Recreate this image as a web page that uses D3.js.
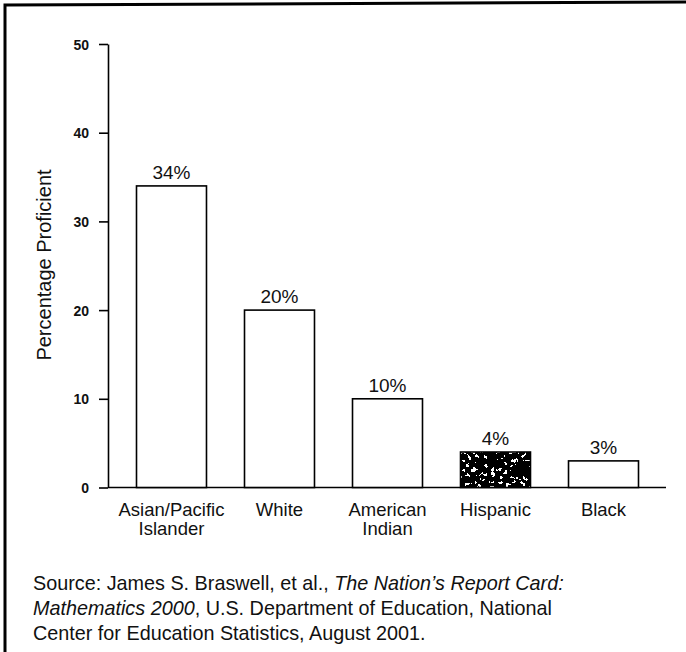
<!DOCTYPE html>
<html>
<head>
<meta charset="utf-8">
<script src="https://cdn.jsdelivr.net/npm/d3@7"></script>
<style>
  html, body { margin: 0; padding: 0; background: #fff; }
  svg { display: block; }
  text { font-family: "Liberation Sans", Arial, Helvetica, sans-serif; fill: #111; }
</style>
</head>
<body>
<svg id="chart" width="686" height="652"></svg>
<script>
// Grade 12 mathematics proficiency by race/ethnicity, NAEP 2000
const categories = ["Asian/Pacific Islander", "White", "American Indian", "Hispanic", "Black"];
const categoryLines = [["Asian/Pacific", "Islander"], ["White"], ["American", "Indian"], ["Hispanic"], ["Black"]];
const values = [34, 20, 10, 4, 3];
const valueLabels = ["34%", "20%", "10%", "4%", "3%"];
const yTicks = [0, 10, 20, 30, 40, 50];
const yTitle = "Percentage Proficient";
const sourceLines = [
  [{t: "Source: James S. Braswell, et al., "}, {t: "The Nation\u2019s Report Card:", i: true}],
  [{t: "Mathematics 2000", i: true}, {t: ", U.S. Department of Education, National"}],
  [{t: "Center for Education Statistics, August 2001."}]
];

const svg = d3.select("#chart");

// speckled fill used for the Hispanic bar
const defs = svg.append("defs");
const f = defs.append("filter").attr("id", "speckle")
  .attr("x", 0).attr("y", 0).attr("width", 1).attr("height", 1);
f.append("feTurbulence").attr("type", "fractalNoise").attr("baseFrequency", 0.22)
  .attr("numOctaves", 3).attr("seed", 11).attr("result", "noise");
f.append("feColorMatrix").attr("in", "noise").attr("type", "matrix")
  .attr("values", "0 0 0 0 1  0 0 0 0 1  0 0 0 0 1  1 0 0 0 0").attr("result", "wn");
const ct = f.append("feComponentTransfer").attr("in", "wn").attr("result", "spots");
ct.append("feFuncA").attr("type", "discrete").attr("tableValues", "0 0 0 0 0 1 1 1");
f.append("feComposite").attr("in", "spots").attr("in2", "SourceGraphic")
  .attr("operator", "in").attr("result", "clipped");
const fm = f.append("feMerge");
fm.append("feMergeNode").attr("in", "SourceGraphic");
fm.append("feMergeNode").attr("in", "clipped");

// frame (top and left edges)
svg.append("path")
  .attr("d", "M5,652 L5,5 L686,2")
  .attr("fill", "none").attr("stroke", "#000").attr("stroke-width", 3);

const x = d3.scaleBand().domain(categories).range([136.5, 638.5])
  .paddingInner(0.352).paddingOuter(0);
const y = d3.scaleLinear().domain([0, 50]).range([487.5, 44]);
const axisX = 108;

// y axis
const yAxis = svg.append("g")
  .attr("transform", `translate(${axisX},0)`)
  .call(d3.axisLeft(y).tickValues(yTicks).tickSize(9).tickPadding(10).tickSizeOuter(0));
yAxis.attr("font-size", 14).attr("font-family", "'Liberation Sans', Arial, sans-serif");
yAxis.select(".domain").attr("stroke", "#000").attr("stroke-width", 1.6);
yAxis.selectAll(".tick line").attr("stroke", "#000").attr("stroke-width", 1.6);
yAxis.selectAll(".tick text")
  .attr("font-size", 14).attr("fill", "#111")
  .style("font-size", "14px").style("font-weight", "bold")
  .attr("dy", "0.36em");

// baseline
svg.append("line")
  .attr("x1", axisX).attr("x2", 666)
  .attr("y1", y(0)).attr("y2", y(0))
  .attr("stroke", "#000").attr("stroke-width", 1.6);

// bars
svg.selectAll("rect.bar").data(categories).join("rect")
  .attr("class", "bar")
  .attr("x", d => x(d))
  .attr("y", (d, i) => y(values[i]))
  .attr("width", x.bandwidth())
  .attr("height", (d, i) => y(0) - y(values[i]))
  .attr("fill", d => d === "Hispanic" ? "#000" : "#fff")
  .attr("filter", d => d === "Hispanic" ? "url(#speckle)" : null);
svg.selectAll("rect.outline").data(categories).join("rect")
  .attr("class", "outline")
  .attr("x", d => x(d))
  .attr("y", (d, i) => y(values[i]))
  .attr("width", x.bandwidth())
  .attr("height", (d, i) => y(0) - y(values[i]))
  .attr("fill", "none").attr("stroke", "#000").attr("stroke-width", 1.6);

// value labels
svg.selectAll("text.val").data(categories).join("text")
  .attr("class", "val")
  .attr("x", d => x(d) + x.bandwidth() / 2)
  .attr("y", (d, i) => y(values[i]) - 7)
  .attr("text-anchor", "middle")
  .style("font-size", "19px")
  .text((d, i) => valueLabels[i]);

// category labels
const cl = svg.selectAll("text.cat").data(categories).join("text")
  .attr("class", "cat")
  .attr("text-anchor", "middle")
  .style("font-size", "18.5px");
cl.each(function (d, i) {
  const t = d3.select(this);
  categoryLines[i].forEach((line, j) => {
    t.append("tspan")
      .attr("x", x(d) + x.bandwidth() / 2)
      .attr("y", 516 + j * 19)
      .text(line);
  });
});

// y axis title
svg.append("text")
  .attr("transform", "translate(51,265) rotate(-90)")
  .attr("text-anchor", "middle")
  .style("font-size", "20px")
  .text(yTitle);

// source note
sourceLines.forEach((parts, i) => {
  const t = svg.append("text")
    .attr("x", 33).attr("y", 590 + i * 25)
    .style("font-size", "19.8px");
  parts.forEach(p => {
    t.append("tspan").style("font-style", p.i ? "italic" : "normal").text(p.t);
  });
});
</script>
</body>
</html>
